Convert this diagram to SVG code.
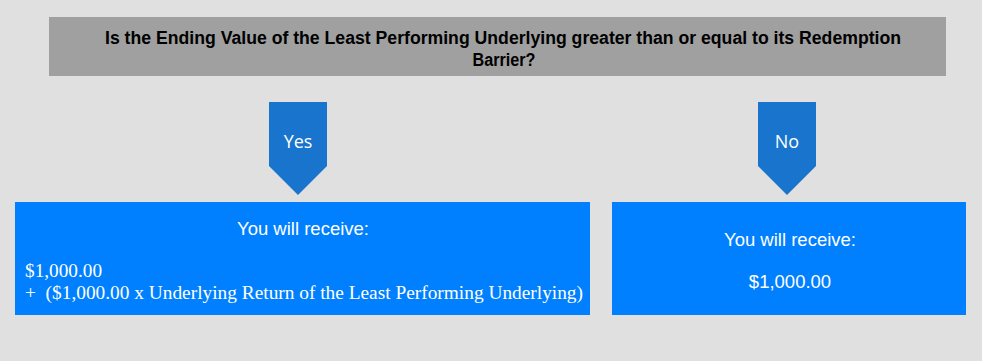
<svg xmlns="http://www.w3.org/2000/svg" width="982" height="361" viewBox="0 0 982 361">
<style>
.bg{fill:#e0e0e0}
.q{fill:#a0a0a0}
.arr{fill:#1874cd}
.box{fill:#0080ff}
.qt{font-family:"Liberation Sans",Arial,sans-serif;font-weight:bold;font-size:18px;fill:#000;text-anchor:middle}
.lbl{font-family:"Open Sans","Liberation Sans",sans-serif;font-size:18px;fill:#fff;text-anchor:middle}
.ar{font-family:"Liberation Sans",Arial,sans-serif;font-size:18.5px;fill:#fff;text-anchor:middle}
.sf{font-family:"Liberation Serif","Times New Roman",serif;font-size:19px;fill:#fff}
</style>
<rect class="bg" x="0" y="0" width="982" height="361"/>
<g id="question">
<rect class="q" x="49" y="17" width="897" height="59"/>
<text class="qt" x="503" y="44" textLength="796" lengthAdjust="spacingAndGlyphs">Is the Ending Value of the Least Performing Underlying greater than or equal to its Redemption</text>
<text class="qt" x="504" y="66" textLength="63" lengthAdjust="spacingAndGlyphs">Barrier?</text>
</g>
<g id="connectors"></g>
<g id="yes">
<polygon class="arr" points="269,102 327,102 327,166 298,195 269,166"/>
<text class="lbl" x="298" y="148">Yes</text>
</g>
<g id="no">
<polygon class="arr" points="758,102 816,102 816,166 787,195 758,166"/>
<text class="lbl" x="787" y="148">No</text>
</g>
<g id="yes-result">
<rect class="box" x="15" y="202" width="575" height="113"/>
<text class="ar" x="303" y="235">You will receive:</text>
<text class="sf" x="25" y="277" textLength="77" lengthAdjust="spacingAndGlyphs">$1,000.00</text>
<text class="sf" x="25" y="299" textLength="558" lengthAdjust="spacingAndGlyphs">+&#160;&#160;($1,000.00 x Underlying Return of the Least Performing Underlying)</text>
</g>
<g id="no-result">
<rect class="box" x="612" y="202" width="354" height="113"/>
<text class="ar" x="790" y="246">You will receive:</text>
<text class="ar" x="790" y="288">$1,000.00</text>
</g>
</svg>
